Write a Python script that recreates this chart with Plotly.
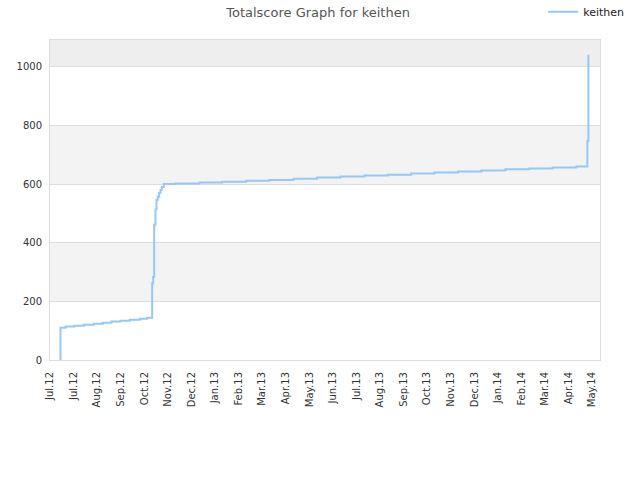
import plotly.graph_objects as go

tick_labels = ["Jul.12", "Jul.12", "Aug.12", "Sep.12", "Oct.12", "Nov.12", "Dec.12",
               "Jan.13", "Feb.13", "Mar.13", "Apr.13", "May.13", "Jun.13", "Jul.13",
               "Aug.13", "Sep.13", "Oct.13", "Nov.13", "Dec.13", "Jan.14", "Feb.14",
               "Mar.14", "Apr.14", "May.14"]

x_pos = [0.445, 0.445, 0.657, 1.039, 1.433, 1.857, 2.239, 2.608, 2.990, 3.384, 3.808,
         4.122, 4.334, 4.377, 4.419, 4.474, 4.517, 4.572, 4.631, 4.686, 4.741, 4.826,
         5.322, 6.340, 7.303, 8.321, 9.309, 10.327, 11.332, 12.320, 13.338, 14.326,
         15.318, 16.306, 17.311, 18.299, 19.317, 20.335, 21.323, 22.328, 22.795, 22.837]
scores = [0, 110, 114, 117, 120, 124, 127, 131, 134, 137, 141,
          144, 262, 284, 461, 514, 546, 557, 569, 580, 590, 600,
          602, 605, 608, 611, 614, 618, 622, 626, 629, 632,
          636, 639, 643, 646, 650, 653, 656, 660, 747, 1041]

band_edges = [200, 400, 600, 800, 1000, 1091]
band_colors = ["#f3f3f3", None, "#f3f3f3", None, "#eeeeee"]

fig = go.Figure()
fig.add_trace(go.Scatter(x=x_pos, y=scores, mode="lines", name="keithen",
                         line=dict(color="#96c8f5", width=2, shape="hv")))

shapes = []
for i, c in enumerate(band_colors):
    if c:
        shapes.append(dict(type="rect", xref="paper", yref="y", x0=0, x1=1,
                           y0=band_edges[i], y1=band_edges[i + 1],
                           fillcolor=c, line=dict(width=0), layer="below"))

fig.update_layout(
    width=640, height=480,
    margin=dict(l=50, r=40, t=40, b=120, autoexpand=False),
    paper_bgcolor="white", plot_bgcolor="white",
    font=dict(family="DejaVu Sans", size=10, color="#333333"),
    title=dict(text="Totalscore Graph for keithen", x=0.497, xanchor="center",
               y=0.975, yanchor="middle", yref="container",
               font=dict(family="DejaVu Sans", size=13, color="#555555")),
    shapes=shapes,
    showlegend=True,
    legend=dict(x=1.053, xanchor="right", y=1.088, yanchor="middle",
                bgcolor="rgba(0,0,0,0)", font=dict(size=11, color="#222222"),
                itemwidth=30),
    xaxis=dict(range=[0, 23.33], tickmode="array", tickvals=list(range(len(tick_labels))),
               ticktext=tick_labels, tickangle=-90, showgrid=False, zeroline=False,
               showline=True, linecolor="#dddddd", linewidth=1, mirror=True,
               ticks="", ticklabelstandoff=7,
               tickfont=dict(size=10, color="#333333"), automargin=False),
    yaxis=dict(range=[0, 1091], tickmode="linear", tick0=0, dtick=200,
               showgrid=True, gridcolor="#dddddd", gridwidth=1, zeroline=False,
               showline=True, linecolor="#dddddd", linewidth=1, mirror=True,
               ticks="", ticklabelstandoff=5,
               tickfont=dict(size=10, color="#333333"), automargin=False),
)

fig.write_html("out.html", config={"displayModeBar": False},
               post_script="document.body.style.margin='0px';")
